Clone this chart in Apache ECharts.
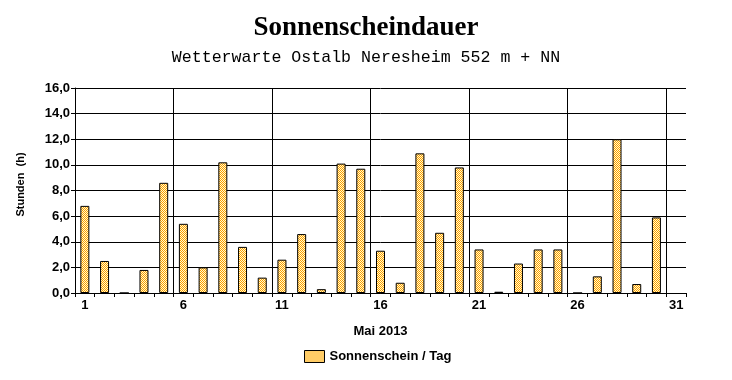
<!DOCTYPE html>
<html>
<head>
<meta charset="utf-8">
<script src="https://cdn.jsdelivr.net/npm/echarts@6/dist/echarts.min.js"></script>
<style>
html,body{margin:0;padding:0;background:#fff;}
#chart{width:732px;height:380px;}
</style>
</head>
<body>
<div id="chart"></div>
<script>
var days = ['1','2','3','4','5','6','7','8','9','10','11','12','13','14','15','16','17','18','19','20','21','22','23','24','25','26','27','28','29','30','31'];
var sunshine = [6.8,2.5,0,1.8,8.6,5.4,2.0,10.2,3.6,1.2,2.6,4.6,0.3,10.1,9.7,3.3,0.8,10.9,4.7,9.8,3.4,0.1,2.3,3.4,3.4,0,1.3,12.0,0.7,5.9,'-'];
var yTicks = {min:0, max:16, interval:2};
var weekGrid = {min:0, max:31, interval:5};
var titleText = 'Sonnenscheindauer';
var subtitleText = 'Wetterwarte Ostalb Neresheim 552 m + NN';
var seriesName = 'Sonnenschein / Tag';
var xName = 'Mai 2013';
var yName = 'Stunden  (h)';

var cv = document.createElement('canvas');
cv.width = 2; cv.height = 2;
var cx = cv.getContext('2d');
cx.fillStyle = '#FFFFCC'; cx.fillRect(0,0,2,2);
cx.fillStyle = '#FF9900'; cx.fillRect(0,0,1,1); cx.fillRect(1,1,1,1);
var pattern = {image: cv, repeat: 'repeat'};

var chart = echarts.init(document.getElementById('chart'), null, {renderer:'canvas'});
var boldSans = {fontFamily:'Liberation Sans, Arial, sans-serif', fontWeight:'bold', color:'#000'};
chart.setOption({
  animation:false,
  backgroundColor:'#fff',
  title:[
    {text:titleText, left:'center', top:10, textStyle:{fontFamily:'Liberation Serif, Times New Roman, serif', fontWeight:'bold', fontSize:27, color:'#000'}},
    {text:subtitleText, left:'center', top:44, textStyle:{fontFamily:'Liberation Mono, Courier New, monospace', fontWeight:'normal', fontSize:16.6, color:'#000'}}
  ],
  legend:{
    left:304, top:350, padding:0, itemWidth:20, itemHeight:12, itemGap:10,
    icon:'rect',
    data:[seriesName],
    textStyle:Object.assign({fontSize:13}, boldSans),
    itemStyle:{color:pattern, borderColor:'#000', borderWidth:1}
  },
  grid:{left:75, right:46, top:88, bottom:87, containLabel:false},
  xAxis:[{
    type:'category', data:days, boundaryGap:true,
    name:xName, nameLocation:'middle', nameGap:32,
    nameTextStyle:Object.assign({fontSize:13}, boldSans),
    axisLine:{lineStyle:{color:'#000', width:1}},
    axisTick:{show:true, interval:0, length:4, lineStyle:{color:'#000'}},
    axisLabel:Object.assign({fontSize:13, margin:6, interval:function(i){return i%5===0;}}, boldSans),
    splitLine:{show:false}
  },{
    type:'value', position:'top', min:weekGrid.min, max:weekGrid.max, interval:weekGrid.interval,
    axisLine:{show:false}, axisTick:{show:false}, axisLabel:{show:false},
    splitLine:{show:true, showMinLine:false, showMaxLine:false, lineStyle:{color:'#000', width:1}}
  }],
  yAxis:{
    type:'value', min:yTicks.min, max:yTicks.max, interval:yTicks.interval,
    name:yName, nameLocation:'middle', nameGap:49, nameRotate:90,
    nameTextStyle:Object.assign({fontSize:11, padding:[0,0,0,12]}, boldSans),
    axisLine:{show:true, lineStyle:{color:'#000', width:1}},
    axisTick:{show:true, length:4, lineStyle:{color:'#000'}},
    axisLabel:Object.assign({fontSize:13, margin:5, formatter:function(v){return v.toFixed(1).replace('.',',');}}, boldSans),
    splitLine:{show:true, lineStyle:{color:'#000', width:1}}
  },
  series:[{
    name:seriesName, type:'bar', data:sunshine, barWidth:9, xAxisIndex:0,
    itemStyle:{color:pattern, borderColor:'#000', borderWidth:1}
  }]
});
</script>
</body>
</html>
